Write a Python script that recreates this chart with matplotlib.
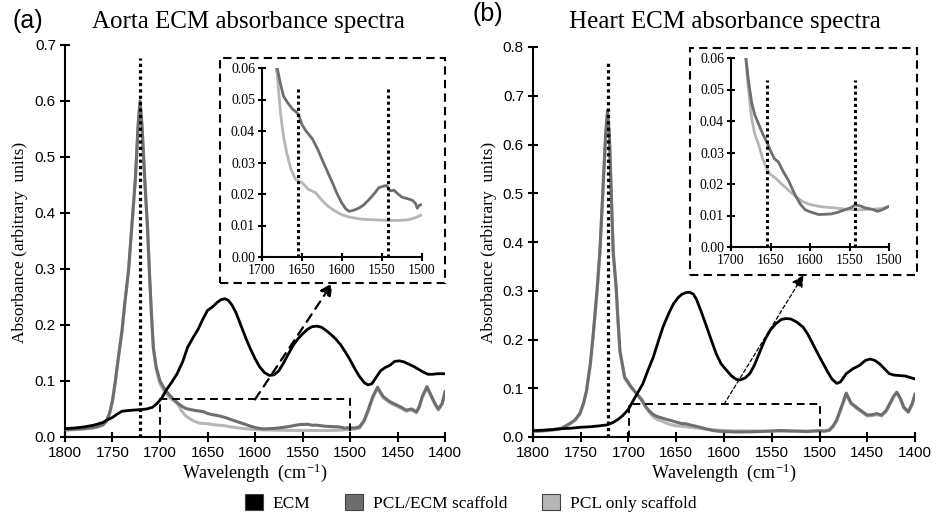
import matplotlib
matplotlib.use('Agg')
import matplotlib.pyplot as plt
from matplotlib.patches import Rectangle, Patch

plt.rcParams['mathtext.fontset'] = 'stix'
SERIF = 'Liberation Serif'
SANS = 'Liberation Sans'

# ---------------- data ----------------
series_labels = ['ECM', 'PCL/ECM scaffold', 'PCL only scaffold']
series_colors = ['#000000', '#6e6e6e', '#b6b6b6']
panel_titles = ['Aorta ECM absorbance spectra', 'Heart ECM absorbance spectra']
panel_tags = ['(a)', '(b)']
main_xticks = [1800, 1750, 1700, 1650, 1600, 1550, 1500, 1450, 1400]
inset_xticks = [1700, 1650, 1600, 1550, 1500]
aorta_yticks = [0.0, 0.1, 0.2, 0.3, 0.4, 0.5, 0.6, 0.7]
heart_yticks = [0.0, 0.1, 0.2, 0.3, 0.4, 0.5, 0.6, 0.7, 0.8]
inset_yticks = [0.00, 0.01, 0.02, 0.03, 0.04, 0.05, 0.06]
ester_peak = 1721
amide_bands = [1655, 1543]
ester_line_top = [0.677, 0.77]
amide_line_top = [0.0535, 0.053]
zoom_region = [1700, 1500, 0.067]

# Aorta
wn_a_ecm = [1800, 1790, 1780, 1770, 1760, 1756, 1750, 1745, 1740, 1735, 1728, 1720, 1714, 1708, 1703,
            1698, 1693, 1688, 1682, 1676, 1671, 1665, 1660, 1655, 1650, 1645, 1640, 1636, 1632, 1628,
            1624, 1620, 1615, 1610, 1605, 1600, 1595, 1590, 1585, 1580, 1575, 1570, 1565, 1560, 1555,
            1550, 1545, 1540, 1535, 1530, 1525, 1520, 1515, 1510, 1505, 1500, 1495, 1490, 1485, 1481,
            1477, 1473, 1468, 1463, 1458, 1453, 1448, 1443, 1438, 1433, 1428, 1423, 1418, 1413, 1408,
            1404, 1400]
abs_a_ecm = [0.015, 0.016, 0.018, 0.021, 0.026, 0.030, 0.035, 0.041, 0.046, 0.047, 0.048, 0.049, 0.050, 0.053, 0.060,
             0.070, 0.085, 0.097, 0.113, 0.135, 0.160, 0.178, 0.192, 0.210, 0.226, 0.232, 0.240, 0.245, 0.247, 0.244,
             0.235, 0.222, 0.200, 0.178, 0.158, 0.140, 0.125, 0.115, 0.110, 0.111, 0.118, 0.132, 0.148, 0.163, 0.175,
             0.184, 0.192, 0.197, 0.198, 0.196, 0.190, 0.183, 0.175, 0.165, 0.152, 0.138, 0.122, 0.108, 0.097, 0.093,
             0.095, 0.105, 0.118, 0.124, 0.128, 0.135, 0.136, 0.134, 0.130, 0.126, 0.121, 0.116, 0.112, 0.112, 0.113,
             0.113, 0.113]

wn_a_pe = [1800, 1790, 1780, 1770, 1765, 1760, 1756, 1753, 1750, 1747, 1744, 1740, 1737, 1733, 1730,
           1726, 1723, 1721, 1719, 1716, 1713, 1711, 1709, 1707, 1704, 1700, 1695, 1690, 1685, 1681,
           1677, 1673, 1668, 1662, 1657, 1654, 1650, 1645, 1637, 1630, 1625, 1618, 1612, 1606, 1600,
           1595, 1591, 1586, 1579, 1573, 1567, 1560, 1554, 1548, 1544, 1540, 1535, 1530, 1525, 1518,
           1512, 1508, 1506, 1503, 1500, 1495, 1490, 1485, 1481, 1476, 1471, 1468, 1465, 1458, 1452,
           1447, 1441, 1438, 1435, 1430, 1427, 1424, 1419, 1414, 1410, 1407, 1403, 1400]
abs_a_pe = [0.013, 0.014, 0.015, 0.017, 0.019, 0.022, 0.030, 0.043, 0.065, 0.100, 0.140, 0.190, 0.240, 0.300, 0.370,
            0.460, 0.560, 0.600, 0.560, 0.460, 0.370, 0.290, 0.220, 0.160, 0.125, 0.100, 0.085, 0.075, 0.066, 0.060,
            0.055, 0.051, 0.049, 0.047, 0.046, 0.045, 0.042, 0.040, 0.0375, 0.034, 0.031, 0.027, 0.0236, 0.020, 0.017,
            0.0152, 0.0145, 0.0148, 0.0155, 0.0165, 0.018, 0.020, 0.022, 0.0225, 0.0227, 0.021, 0.0212, 0.020, 0.019, 0.0185,
            0.018, 0.017, 0.0155, 0.0165, 0.0166, 0.016, 0.018, 0.030, 0.048, 0.072, 0.089, 0.080, 0.072, 0.063, 0.058,
            0.054, 0.048, 0.049, 0.050, 0.045, 0.055, 0.072, 0.090, 0.072, 0.058, 0.050, 0.060, 0.081]

wn_a_pcl = [1800, 1790, 1780, 1770, 1765, 1760, 1756, 1753, 1750, 1747, 1744, 1740, 1737, 1733, 1730,
            1726, 1723, 1721, 1719, 1716, 1713, 1711, 1709, 1707, 1704, 1700, 1695, 1690, 1685, 1681,
            1677, 1673, 1669, 1664, 1658, 1650, 1642, 1633, 1625, 1617, 1608, 1600, 1590, 1575, 1560,
            1542, 1530, 1517, 1508, 1500, 1495, 1490, 1485, 1481, 1476, 1471, 1468, 1465, 1458, 1452,
            1447, 1441, 1438, 1435, 1430, 1427, 1424, 1419, 1414, 1410, 1407, 1403, 1400]
abs_a_pcl = [0.012, 0.013, 0.014, 0.016, 0.018, 0.021, 0.029, 0.042, 0.064, 0.098, 0.138, 0.188, 0.238, 0.298, 0.366,
             0.455, 0.552, 0.590, 0.552, 0.455, 0.366, 0.287, 0.217, 0.157, 0.120, 0.095, 0.080, 0.070, 0.064, 0.058,
             0.046, 0.038, 0.033, 0.028, 0.0246, 0.0236, 0.0215, 0.0204, 0.018, 0.016, 0.0145, 0.0134, 0.0126, 0.012, 0.0118,
             0.0116, 0.0116, 0.0118, 0.0125, 0.0134, 0.014, 0.016, 0.028, 0.045, 0.070, 0.087, 0.078, 0.070, 0.061, 0.056,
             0.052, 0.046, 0.047, 0.048, 0.043, 0.053, 0.070, 0.088, 0.070, 0.056, 0.048, 0.058, 0.079]

# Heart
wn_h_ecm = [1800, 1790, 1780, 1770, 1760, 1750, 1740, 1730, 1722, 1716, 1711, 1706, 1700, 1695, 1690,
            1685, 1680, 1674, 1669, 1664, 1658, 1653, 1648, 1644, 1640, 1636, 1632, 1629, 1624, 1618,
            1613, 1608, 1603, 1597, 1592, 1587, 1583, 1578, 1573, 1568, 1562, 1557, 1552, 1546, 1540,
            1535, 1530, 1524, 1517, 1512, 1507, 1501, 1496, 1491, 1487, 1482, 1478, 1472, 1465, 1458,
            1452, 1447, 1442, 1437, 1432, 1427, 1422, 1416, 1410, 1405, 1400]
abs_h_ecm = [0.013, 0.014, 0.015, 0.017, 0.018, 0.020, 0.021, 0.023, 0.025, 0.030, 0.036, 0.044, 0.057, 0.075, 0.092,
             0.109, 0.135, 0.164, 0.195, 0.225, 0.253, 0.273, 0.286, 0.293, 0.296, 0.297, 0.293, 0.283, 0.258, 0.225,
             0.197, 0.170, 0.150, 0.136, 0.125, 0.118, 0.117, 0.121, 0.130, 0.148, 0.177, 0.200, 0.218, 0.232, 0.241,
             0.243, 0.242, 0.236, 0.225, 0.210, 0.191, 0.168, 0.150, 0.132, 0.119, 0.110, 0.113, 0.130, 0.140, 0.147,
             0.157, 0.160, 0.157, 0.150, 0.140, 0.130, 0.127, 0.126, 0.125, 0.122, 0.119]

wn_h_pe = [1800, 1790, 1780, 1770, 1762, 1756, 1751, 1747, 1744, 1740, 1737, 1733, 1730, 1727, 1724,
           1722, 1720, 1718, 1716, 1713, 1711, 1709, 1704, 1698, 1692, 1686, 1682, 1678, 1674, 1670,
           1665, 1660, 1655, 1649, 1645, 1640, 1634, 1627, 1619, 1612, 1606, 1598, 1589, 1580, 1573,
           1565, 1556, 1548, 1543, 1536, 1530, 1522, 1514, 1507, 1500, 1495, 1490, 1486, 1482, 1477,
           1472, 1467, 1460, 1455, 1450, 1444, 1440, 1435, 1430, 1426, 1422, 1419, 1415, 1412, 1407,
           1403, 1400]
abs_h_pe = [0.012, 0.013, 0.015, 0.018, 0.027, 0.035, 0.048, 0.070, 0.095, 0.150, 0.210, 0.300, 0.380, 0.500, 0.620,
            0.670, 0.620, 0.500, 0.380, 0.310, 0.240, 0.177, 0.123, 0.105, 0.090, 0.075, 0.062, 0.053, 0.046, 0.042,
            0.039, 0.036, 0.0335, 0.030, 0.028, 0.027, 0.024, 0.021, 0.0166, 0.0135, 0.0118, 0.011, 0.0103, 0.0104, 0.0105,
            0.011, 0.0118, 0.0125, 0.0134, 0.013, 0.0124, 0.012, 0.0113, 0.012, 0.0129, 0.012, 0.014, 0.022, 0.035, 0.062,
            0.090, 0.070, 0.059, 0.052, 0.045, 0.046, 0.048, 0.045, 0.055, 0.070, 0.085, 0.092, 0.078, 0.062, 0.052,
            0.068, 0.088]

wn_h_pcl = [1800, 1790, 1780, 1770, 1762, 1756, 1751, 1747, 1744, 1740, 1737, 1733, 1730, 1727, 1724,
            1722, 1720, 1718, 1716, 1713, 1711, 1709, 1704, 1698, 1692, 1686, 1682, 1678, 1674, 1670,
            1665, 1660, 1655, 1650, 1644, 1636, 1627, 1618, 1610, 1600, 1589, 1578, 1568, 1555, 1539,
            1520, 1510, 1500, 1495, 1490, 1486, 1482, 1477, 1472, 1467, 1460, 1455, 1450, 1444, 1440,
            1435, 1430, 1426, 1422, 1419, 1415, 1412, 1407, 1403, 1400]
abs_h_pcl = [0.011, 0.012, 0.014, 0.017, 0.026, 0.034, 0.047, 0.068, 0.093, 0.147, 0.206, 0.295, 0.374, 0.492, 0.610,
             0.660, 0.610, 0.492, 0.374, 0.305, 0.236, 0.174, 0.120, 0.103, 0.090, 0.078, 0.062, 0.050, 0.041, 0.036,
             0.0325, 0.028, 0.025, 0.023, 0.022, 0.020, 0.018, 0.016, 0.0145, 0.0135, 0.0129, 0.0126, 0.0124, 0.012, 0.0118,
             0.012, 0.0122, 0.0129, 0.012, 0.013, 0.020, 0.033, 0.060, 0.087, 0.068, 0.057, 0.050, 0.043, 0.044, 0.046,
             0.043, 0.053, 0.068, 0.083, 0.090, 0.076, 0.060, 0.050, 0.066, 0.086]

panels = [
    dict(series=[(wn_a_pcl, abs_a_pcl), (wn_a_pe, abs_a_pe), (wn_a_ecm, abs_a_ecm)],
         yticks=aorta_yticks,
         main=[65, 437, 380, 392], inset=[262, 257, 160, 189], box=[220, 283, 225, 225],
         title_xy=(248, 22), tag_xy=(28, 21), ylab_xy=(20, 242), xlab_xy=(255, 473),
         arrow_lw=1.6, arrow_dash=(0, (4, 3))),
    dict(series=[(wn_h_pcl, abs_h_pcl), (wn_h_pe, abs_h_pe), (wn_h_ecm, abs_h_ecm)],
         yticks=heart_yticks,
         main=[533, 437, 382, 390], inset=[731, 247, 158, 189], box=[690, 275, 227, 227],
         title_xy=(725, 22), tag_xy=(488, 14), ylab_xy=(489, 242), xlab_xy=(724, 473),
         arrow_lw=0.9, arrow_dash=(0, (3, 2))),
]

W, H = 942, 519
fig = plt.figure(figsize=(W / 100, H / 100), dpi=100)


def frac(x0, ybot, w, h):
    return [x0 / W, (H - ybot) / H, w / W, h / H]


def style_axes(ax, fontfamily, fontsize, fmt):
    for s in ['top', 'right']:
        ax.spines[s].set_visible(False)
    for s in ['left', 'bottom']:
        ax.spines[s].set_linewidth(1.5)
        ax.spines[s].set_color('black')
    ax.tick_params(direction='inout', length=7, width=1.5, colors='black', labelsize=fontsize, pad=3)
    for lab in ax.get_xticklabels() + ax.get_yticklabels():
        lab.set_fontfamily(fontfamily)
    ax.yaxis.set_major_formatter(plt.FormatStrFormatter(fmt))


draw_order = [2, 1, 0]  # light, dark, black
for i, p in enumerate(panels):
    ax = fig.add_axes(frac(*p['main']))
    for k, (wn, ab) in zip(draw_order, p['series']):
        ax.plot(wn, ab, color=series_colors[k], lw=2.2 if k else 2.0, solid_joinstyle='round', zorder=2 + (2 - k))
    ax.plot([ester_peak, ester_peak], [0, ester_line_top[i]], color='black', lw=2.3,
            linestyle=(0, (1, 1)), zorder=6)
    ax.set_xlim(1800, 1400)
    ax.set_ylim(p['yticks'][0], p['yticks'][-1])
    ax.set_xticks(main_xticks)
    ax.set_yticks(p['yticks'])
    ax.set_xticklabels([str(t) for t in main_xticks])
    style_axes(ax, SANS, 11, '%.1f')
    ax.set_yticklabels(['%.1f' % t for t in p['yticks']], fontfamily=SANS)

    # zoom rectangle
    x1, x2, ytop = zoom_region
    ax.add_patch(Rectangle((x2, 0), x1 - x2, ytop, fill=False, ec='black', lw=1.4,
                           ls=(0, (4, 2.5)), clip_on=False, zorder=7))

    # inset
    axi = fig.add_axes(frac(*p['inset']))
    for k, (wn, ab) in zip(draw_order, p['series']):
        if k == 0:
            continue
        axi.plot(wn, ab, color=series_colors[k], lw=2.0, zorder=2 + (2 - k))
    for b in amide_bands:
        axi.plot([b, b], [0, amide_line_top[i]], color='black', lw=2.2, linestyle=(0, (1, 1)), zorder=6)
    axi.set_xlim(1700, 1500)
    axi.set_ylim(0, 0.06)
    axi.set_xticks(inset_xticks)
    axi.set_yticks(inset_yticks)
    axi.patch.set_alpha(0)
    style_axes(axi, SERIF, 10, '%.2f')
    axi.tick_params(length=6, pad=2)

    # inset dashed frame
    bx, by, bw, bh = p['box']
    fr = frac(bx, by, bw, bh)
    fig.add_artist(Rectangle((fr[0], fr[1]), fr[2], fr[3], transform=fig.transFigure, fill=False,
                             ec='black', lw=1.5, ls=(0, (4, 2.5))))

    # arrow from zoom region to inset frame
    target = (fr[0] + fr[2] / 2, fr[1])
    ax.annotate('', xy=target, xycoords='figure fraction',
                xytext=((x1 + x2) / 2, ytop), textcoords='data',
                arrowprops=dict(arrowstyle='-|>', color='black', lw=p['arrow_lw'],
                                linestyle=p['arrow_dash'], mutation_scale=18,
                                shrinkA=0, shrinkB=0), zorder=8)

    # texts
    tx, ty = p['title_xy']
    fig.text(tx / W, 1 - ty / H, panel_titles[i], fontfamily=SERIF, fontsize=18, ha='center', va='center')
    gx, gy = p['tag_xy']
    fig.text(gx / W, 1 - gy / H, panel_tags[i], fontfamily=SANS, fontsize=18, ha='center', va='center')
    lx, ly = p['ylab_xy']
    fig.text(lx / W, 1 - ly / H, 'Absorbance (arbitrary  units)', fontfamily=SERIF, fontsize=12.5,
             rotation=90, ha='center', va='center')
    xx, xy = p['xlab_xy']
    fig.text(xx / W, 1 - xy / H, 'Wavelength  (cm$^{\\mathregular{-1}}$)', fontfamily=SERIF, fontsize=13,
             ha='center', va='center')

handles = [Patch(facecolor=c, edgecolor='#444444', lw=0.8) for c in series_colors]
fig.legend(handles, series_labels, loc='center', bbox_to_anchor=(471 / W, 1 - 503 / H), ncol=3,
           frameon=False, handlelength=1.0, handleheight=1.0, columnspacing=2.0, handletextpad=0.6,
           prop={'family': SERIF, 'size': 12.5})

fig.savefig('out.png', dpi=100)
